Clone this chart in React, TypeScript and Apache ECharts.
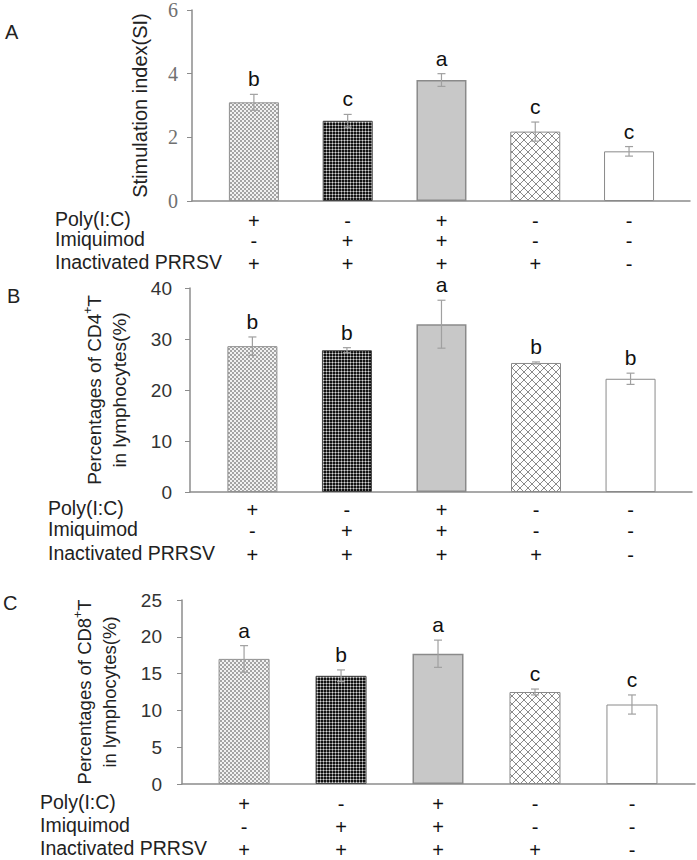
import React, { useEffect, useRef } from "react";
import * as echarts from "echarts";

// ---------- data ----------
const rowNames = ["Poly(I:C)", "Imiquimod", "Inactivated PRRSV"];
const polyIC = ["+", "-", "+", "-", "-"];
const imiquimod = ["-", "+", "+", "-", "-"];
const prrsv = ["+", "+", "+", "+", "-"];
const groupIndex = [0, 1, 2, 3, 4];

const siMean = [3.1, 2.52, 3.8, 2.18, 1.56];
const siErr = [0.25, 0.2, 0.2, 0.3, 0.15];
const siLetters = ["b", "c", "a", "c", "c"];

const cd4Mean = [28.6, 27.8, 32.9, 25.3, 22.2];
const cd4Err = [1.8, 0.5, 4.7, 0.2, 1.1];
const cd4Letters = ["b", "b", "a", "b", "b"];

const cd8Mean = [17.0, 14.7, 17.7, 12.5, 10.8];
const cd8Err = [1.8, 0.8, 1.85, 0.4, 1.3];
const cd8Letters = ["a", "b", "a", "c", "c"];

const siAxis = { max: 6, interval: 2 };
const cd4Axis = { max: 40, interval: 10 };
const cd8Axis = { max: 25, interval: 5 };

const SANS = "'Liberation Sans', Arial, Helvetica, sans-serif";

function makePattern(w: number, h: number, draw: (ctx: CanvasRenderingContext2D) => void) {
  const c = document.createElement("canvas");
  c.width = w;
  c.height = h;
  const ctx = c.getContext("2d")!;
  draw(ctx);
  return { image: c, repeat: "repeat", imageWidth: w, imageHeight: h } as any;
}

export default function App() {
  const ref = useRef<HTMLDivElement>(null);

  useEffect(() => {
    document.body.style.margin = "0";
    const chart = echarts.init(ref.current!, null, { renderer: "svg" });

    const lightPat = makePattern(4, 4, (ctx) => {
      ctx.fillStyle = "#f2f2f2";
      ctx.fillRect(0, 0, 4, 4);
      ctx.fillStyle = "#a4a4a4";
      ctx.fillRect(0, 0, 2, 2);
      ctx.fillRect(2, 2, 2, 2);
    });
    const darkPat = makePattern(3, 3, (ctx) => {
      ctx.fillStyle = "#111111";
      ctx.fillRect(0, 0, 3, 3);
      ctx.fillStyle = "#7a7a7a";
      ctx.fillRect(2, 0, 1, 3);
      ctx.fillRect(0, 2, 3, 1);
      ctx.fillStyle = "#d8d8d8";
      ctx.fillRect(2, 2, 1, 1);
    });
    const diamondPat = makePattern(8, 8, (ctx) => {
      ctx.fillStyle = "#ffffff";
      ctx.fillRect(0, 0, 8, 8);
      ctx.fillStyle = "#8a8a8a";
      for (let i = 0; i < 8; i++) {
        ctx.fillRect(i, i, 1, 1);
        ctx.fillRect(i, 7 - i, 1, 1);
      }
    });

    const barStyles = [
      { color: lightPat, borderColor: "#909090", borderWidth: 1 },
      { color: darkPat, borderColor: "#444444", borderWidth: 1 },
      { color: "#c8c8c8", borderColor: "#8a8a8a", borderWidth: 1.5 },
      { color: diamondPat, borderColor: "#8a8a8a", borderWidth: 1 },
      { color: "#ffffff", borderColor: "#8a8a8a", borderWidth: 1 },
    ];

    const panels = [
      {
        tag: "A", tagPos: [5, 32],
        mean: siMean, err: siErr, letters: siLetters, axis: siAxis,
        name: "Stimulation index(SI)",
        grid: { left: 192, top: 8, width: 498, height: 193 },
        xMin: -0.66, xMax: 4.65, barWidth: 50, nameGap: 40, labelMargin: 14,
        tickFont: { fontFamily: "'Liberation Serif', serif", fontSize: 20, color: "#707070" },
        nameSize: 20,
        rowY: [18, 38, 61], rowLabelX: 55, rowFont: 19.5,
      },
      {
        tag: "B", tagPos: [7, 296],
        mean: cd4Mean, err: cd4Err, letters: cd4Letters, axis: cd4Axis,
        name: "Percentages of CD4{sup|+}T\nin lymphocytes(%)",
        grid: { left: 190, top: 288, width: 502, height: 204 },
        xMin: -0.66, xMax: 4.65, barWidth: 50, nameGap: 58, labelMargin: 18,
        tickFont: { fontFamily: SANS, fontSize: 19, color: "#333333" },
        nameSize: 19,
        rowY: [16, 37, 61], rowLabelX: 48, rowFont: 19.5,
      },
      {
        tag: "C", tagPos: [3, 603],
        mean: cd8Mean, err: cd8Err, letters: cd8Letters, axis: cd8Axis,
        name: "Percentages of CD8{sup|+}T\nin lymphocytes(%)",
        grid: { left: 182, top: 600, width: 513, height: 184 },
        xMin: -0.64, xMax: 4.65, barWidth: 51, nameGap: 60, labelMargin: 20,
        tickFont: { fontFamily: SANS, fontSize: 19, color: "#333333" },
        nameSize: 18.5,
        rowY: [18, 41, 64], rowLabelX: 40, rowFont: 19.5,
      },
    ];

    const grids: any[] = [];
    const xAxes: any[] = [];
    const yAxes: any[] = [];
    const series: any[] = [];
    const graphics: any[] = [];
    const rows = [polyIC, imiquimod, prrsv];

    panels.forEach((p, pi) => {
      grids.push({ ...p.grid, containLabel: false });
      xAxes.push({
        type: "value", gridIndex: pi, min: p.xMin, max: p.xMax,
        axisLine: { show: true, onZero: false, lineStyle: { color: "#8c8c8c", width: 1.5 } },
        axisTick: { show: false }, axisLabel: { show: false }, splitLine: { show: false },
      });
      yAxes.push({
        type: "value", gridIndex: pi, min: 0, max: p.axis.max, interval: p.axis.interval,
        name: p.name, nameLocation: "middle", nameRotate: 90, nameGap: p.nameGap,
        nameTextStyle: {
          fontFamily: SANS, fontSize: p.nameSize, color: "#222222", lineHeight: 25,
          rich: { sup: { fontFamily: SANS, fontSize: 12, verticalAlign: "top", lineHeight: 25, color: "#222222" } },
        },
        axisLine: { show: true, onZero: false, lineStyle: { color: "#8c8c8c", width: 1.5 } },
        axisTick: { show: true, inside: false, length: 5, lineStyle: { color: "#8c8c8c", width: 1 } },
        axisLabel: { margin: p.labelMargin, ...p.tickFont },
        splitLine: { show: false },
      });

      series.push({
        type: "bar", xAxisIndex: pi, yAxisIndex: pi, barWidth: p.barWidth,
        data: groupIndex.map((g) => ({ value: [g, p.mean[g]], itemStyle: barStyles[g] })),
        silent: true,
      });

      series.push({
        type: "custom", xAxisIndex: pi, yAxisIndex: pi, silent: true, z: 5,
        data: groupIndex.map((g) => [g, p.mean[g], p.err[g]]),
        renderItem: (params: any, api: any) => {
          const x = api.value(0), m = api.value(1), e = api.value(2);
          const top = api.coord([x, m + e]);
          const bot = api.coord([x, m - e]);
          const cap = 4;
          const stroke = { stroke: "#a0a0a0", lineWidth: 1.2 };
          return {
            type: "group",
            children: [
              { type: "line", shape: { x1: top[0], y1: top[1], x2: bot[0], y2: bot[1] }, style: stroke },
              { type: "line", shape: { x1: top[0] - cap, y1: top[1], x2: top[0] + cap, y2: top[1] }, style: stroke },
              { type: "line", shape: { x1: bot[0] - cap, y1: bot[1], x2: bot[0] + cap, y2: bot[1] }, style: stroke },
              {
                type: "text", x: top[0], y: top[1] - 5,
                style: {
                  text: p.letters[params.dataIndex], fill: "#111111",
                  font: `21px ${SANS}`, align: "center", verticalAlign: "bottom",
                  textAlign: "center", textVerticalAlign: "bottom",
                },
              },
            ],
          };
        },
      });

      series.push({
        type: "custom", xAxisIndex: pi, yAxisIndex: pi, silent: true, clip: false, z: 5,
        data: groupIndex.map((g) => [g, 0]),
        renderItem: (params: any, api: any) => {
          const base = api.coord([api.value(0), 0]);
          return {
            type: "group",
            children: rows.map((r, k) => ({
              type: "text", x: base[0], y: base[1] + p.rowY[k] + 2,
              style: {
                text: r[params.dataIndex], fill: "#111111", font: `20px ${SANS}`,
                align: "center", verticalAlign: "middle",
                textAlign: "center", textVerticalAlign: "middle",
              },
            })),
          };
        },
      });

      const bottom = p.grid.top + p.grid.height;
      rowNames.forEach((rn, k) => {
        graphics.push({
          type: "text", x: p.rowLabelX, y: bottom + p.rowY[k],
          style: {
            text: rn, fill: "#222222", font: `${p.rowFont}px ${SANS}`,
            align: "left", verticalAlign: "middle", textAlign: "left", textVerticalAlign: "middle",
          },
        });
      });
      graphics.push({
        type: "text", x: p.tagPos[0], y: p.tagPos[1],
        style: {
          text: p.tag, fill: "#222222", font: `20px ${SANS}`,
          align: "left", verticalAlign: "middle", textAlign: "left", textVerticalAlign: "middle",
        },
      });
    });

    chart.setOption({
      animation: false,
      backgroundColor: "#ffffff",
      grid: grids,
      xAxis: xAxes,
      yAxis: yAxes,
      series,
      graphic: graphics,
    });

    return () => chart.dispose();
  }, []);

  return <div ref={ref} style={{ width: 697, height: 860 }} />;
}
